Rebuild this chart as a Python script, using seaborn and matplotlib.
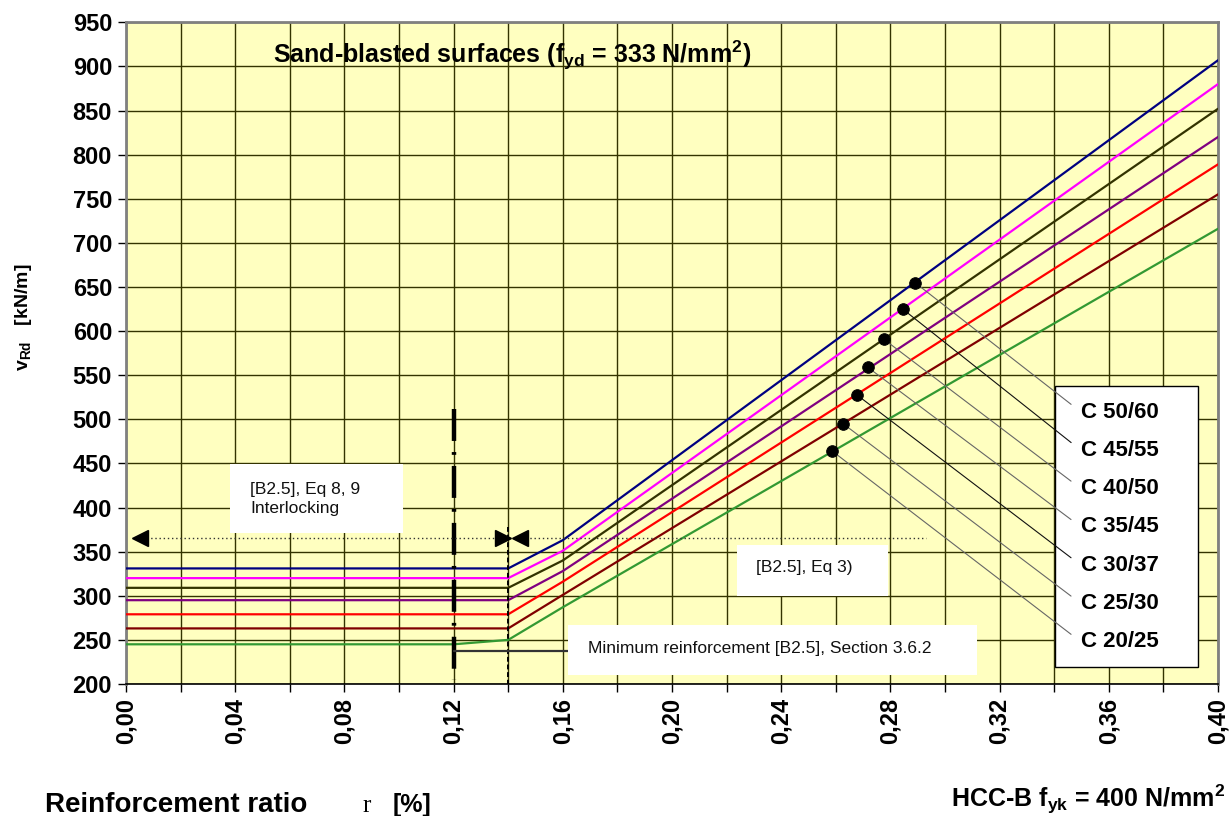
import matplotlib
matplotlib.use('Agg')
import matplotlib.pyplot as plt
import numpy as np
import pandas as pd
import seaborn as sns
from matplotlib.patches import Rectangle

# concrete grades, top line first
GRADES = ['C 50/60', 'C 45/55', 'C 40/50', 'C 35/45', 'C 30/37', 'C 25/30', 'C 20/25']
COLORS = ['#000080', '#FF00FF', '#333300', '#800080', '#FF0000', '#800000', '#339933']

# reinforcement ratio [%] and v_Rd [kN/m] per grade
RHO = [0.00, 0.12, 0.14, 0.16, 0.40]
V_C50 = [331, 331, 331, 363, 907]
V_C45 = [320, 320, 320, 351, 880]
V_C40 = [309, 309, 309, 340, 852]
V_C35 = [295, 295, 295, 328, 820]
V_C30 = [279, 279, 279, 316, 789]
V_C25 = [263, 263, 263, 301, 755]
V_C20 = [245, 245, 250, 287, 716]

# labelled points on each line
DOT_RHO = [0.289, 0.2845, 0.2775, 0.2717, 0.2676, 0.2627, 0.2587]
DOT_V = [655, 625, 591, 559, 528, 495, 464]

XTICKS = [0.00, 0.02, 0.04, 0.06, 0.08, 0.10, 0.12, 0.14, 0.16, 0.18, 0.20,
          0.22, 0.24, 0.26, 0.28, 0.30, 0.32, 0.34, 0.36, 0.38, 0.40]
XTICK_LABELS = ['0,00', '', '0,04', '', '0,08', '', '0,12', '', '0,16', '', '0,20',
                '', '0,24', '', '0,28', '', '0,32', '', '0,36', '', '0,40']
YTICKS = list(range(200, 951, 50))

RHO_MIN = 0.12       # minimum reinforcement
RHO_LIMIT = 0.14     # end of interlocking range
V_ARROW = 366
V_MIN_LEADER = 237
RHO_ARROW_END = 0.293

sns.set_style('ticks')
plt.rcParams['font.family'] = ['Liberation Sans', 'DejaVu Sans']
plt.rcParams['text.color'] = 'black'
plt.rcParams['xtick.color'] = 'black'
plt.rcParams['ytick.color'] = 'black'
plt.rcParams['mathtext.fontset'] = 'custom'
plt.rcParams['mathtext.rm'] = 'Liberation Sans:bold'
plt.rcParams['mathtext.bf'] = 'Liberation Sans:bold'
plt.rcParams['mathtext.it'] = 'Liberation Sans:bold'
plt.rcParams['mathtext.default'] = 'bf'
plt.rcParams['lines.scale_dashes'] = False

series = [V_C50, V_C45, V_C40, V_C35, V_C30, V_C25, V_C20]
df = pd.DataFrame({
    'rho': RHO * len(GRADES),
    'v': [v for s in series for v in s],
    'grade': [g for g in GRADES for _ in RHO],
})

fig = plt.figure(figsize=(12.32, 8.16), dpi=100)
ax = fig.add_axes([126 / 1232, 132 / 816, 1092 / 1232, 661.7 / 816])
ax.set_facecolor('#FFFFC0')

sns.lineplot(data=df, x='rho', y='v', hue='grade', palette=dict(zip(GRADES, COLORS)),
             linewidth=1.6, sort=False, estimator=None, legend=False, ax=ax, zorder=3)

ax.set_xlim(0, 0.40)
ax.set_ylim(200, 950)
ax.set_xticks(XTICKS)
ax.set_xticklabels(XTICK_LABELS, rotation=90, fontsize=17, fontweight='bold')
ax.set_yticks(YTICKS)
ax.set_yticklabels([str(t) for t in YTICKS], fontsize=17, fontweight='bold')
ax.tick_params(direction='out', length=6, width=1, color='black', pad=4,
               labelcolor='black')
ax.grid(True, color='#333300', linewidth=1)
ax.set_axisbelow(True)
for side in ['top', 'right', 'left']:
    ax.spines[side].set_color('#808080')
    ax.spines[side].set_linewidth(2)
ax.spines['bottom'].set_color('black')
ax.spines['bottom'].set_linewidth(1.2)
ax.set_xlabel('')
ax.set_ylabel('')

# limits of the interlocking range
ax.plot([RHO_MIN, RHO_MIN], [512, 204], color='black', linewidth=3.2,
        dashes=(23, 8, 2, 8), zorder=4)
ax.plot([RHO_LIMIT, RHO_LIMIT], [378, 200], color='black', linewidth=1.4,
        dashes=(3.5, 2), zorder=4)

# dotted range arrows
ax.plot([0.003, RHO_ARROW_END], [V_ARROW, V_ARROW], color='#333333',
        linewidth=1, linestyle=(0, (1, 2)), zorder=4)
ax.plot([0.0051], [V_ARROW], marker='<', color='black', markersize=11, zorder=5)
ax.plot([0.138], [V_ARROW], marker='>', color='black', markersize=11, zorder=5)
ax.plot([0.1443], [V_ARROW], marker='<', color='black', markersize=11, zorder=5)

# text boxes
ax.add_patch(Rectangle((0.0952, 0.2282), 0.1585, 0.1043, transform=ax.transAxes,
                       facecolor='white', edgecolor='none', zorder=6))
ax.text(0.1136, 0.2796, '[B2.5], Eq 8, 9\nInterlocking', transform=ax.transAxes,
        fontsize=12.5, color='#111111', va='center', ha='left', linespacing=1.3, zorder=7)

ax.add_patch(Rectangle((0.5595, 0.133), 0.1383, 0.077, transform=ax.transAxes,
                       facecolor='white', edgecolor='none', zorder=6))
ax.text(0.5769, 0.1768, '[B2.5], Eq 3)', transform=ax.transAxes,
        fontsize=12.5, color='#111111', va='center', ha='left', zorder=7)

ax.plot([RHO_MIN, 0.162], [V_MIN_LEADER, V_MIN_LEADER], color='#333333',
        linewidth=1.6, zorder=4)
ax.add_patch(Rectangle((0.4048, 0.0136), 0.3745, 0.0756, transform=ax.transAxes,
                       facecolor='white', edgecolor='none', zorder=6))
ax.text(0.4231, 0.0544, 'Minimum reinforcement [B2.5], Section 3.6.2',
        transform=ax.transAxes, fontsize=12.5, color='#111111',
        va='center', ha='left', zorder=7)

# grade labels with leader lines
ax.add_patch(Rectangle((0.8507, 0.0257), 0.131, 0.4247, transform=ax.transAxes,
                       facecolor='white', edgecolor='black', linewidth=1, zorder=6))
leader_colors = ['#666666', '#111111', '#666666', '#666666', '#111111', '#666666', '#666666']
for i, grade in enumerate(GRADES):
    ax.annotate(grade, xy=(DOT_RHO[i], DOT_V[i]), xycoords='data',
                xytext=(0.8745, 0.411 - i * 0.0579), textcoords='axes fraction',
                fontsize=16, fontweight='bold', va='center', ha='left', zorder=7,
                arrowprops=dict(arrowstyle='-', color=leader_colors[i], linewidth=0.8,
                                relpos=(0, 0.5), shrinkA=6, shrinkB=0))

sns.scatterplot(x=DOT_RHO, y=DOT_V, color='black', s=70, edgecolor='black',
                ax=ax, zorder=8)
ax.set_xlabel('')
ax.set_ylabel('')

ax.text(0.1346, 0.9506, 'Sand-blasted surfaces (f$_{yd}$ = 333 N/mm$^2$)',
        transform=ax.transAxes, fontsize=18, fontweight='bold', va='center', ha='left')

fig.text(23 / 1232, 1 - 317 / 816, 'v$_{Rd}$   [kN/m]', rotation=90,
         fontsize=14, fontweight='bold', va='center', ha='center')
fig.text(45 / 1232, 1 - 812 / 816, 'Reinforcement ratio', fontsize=20,
         fontweight='bold', va='baseline', ha='left')
fig.text(362 / 1232, 1 - 812 / 816, 'r', family=['Liberation Serif'], fontsize=18,
         va='baseline', ha='left')
fig.text(393 / 1232, 1 - 812 / 816, '[%]', fontsize=18,
         fontweight='bold', va='baseline', ha='left')
fig.text(1225 / 1232, 1 - 807 / 816, 'HCC-B f$_{yk}$ = 400 N/mm$^2$', fontsize=18,
         fontweight='bold', va='baseline', ha='right')

fig.savefig('out.png', dpi=100, facecolor='white')
